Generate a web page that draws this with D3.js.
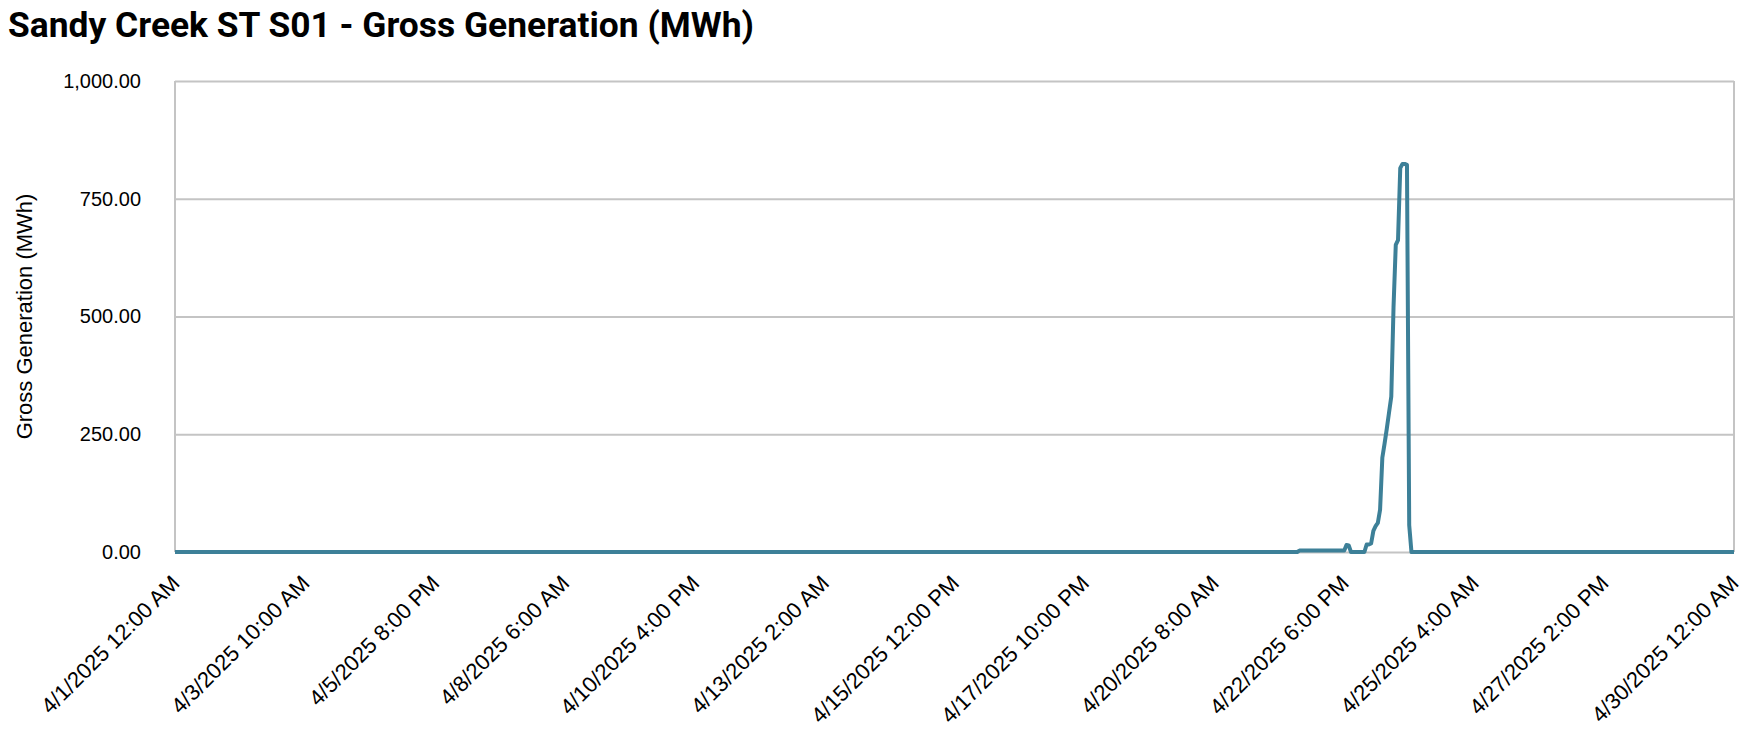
<!DOCTYPE html>
<html>
<head>
<meta charset="utf-8">
<script src="https://cdn.jsdelivr.net/npm/d3@7"></script>
<style>
  body { margin: 0; background: #ffffff; }
</style>
</head>
<body>
<div id="container"></div>
<script>
// readings, in hours from 4/1/2025 12:00 AM (hourly data, zero everywhere else)
let hoursFromStart = [0, 501, 502, 521, 522, 523, 524, 525, 531, 532, 533, 534, 535, 536, 537, 538, 539, 540, 541, 542, 543, 544, 545, 546, 547, 548, 549, 550, 551, 552, 696];
let grossMWh       = [0,   0,   3,   3,   3,  15,  14,   0,   0,  16,  16,  18,  45,  55,  62,  90, 200, 230, 262, 296, 330, 520, 652, 662, 815, 824, 824, 822,  57,   0,   0];

let tickHours = [0, 58, 116, 174, 232, 290, 348, 406, 464, 522, 580, 638, 696];
let yTicks = [0, 250, 500, 750, 1000];

let startDate = new Date(2025, 3, 1, 0, 0);

function toDate(hr){
  return new Date(startDate.getTime() + hr * 3600 * 1000);
}

let data = hoursFromStart.map(function(hr, i){
  return { date: toDate(hr), value: grossMWh[i] };
});

let w = 1748;
let h = 742;
let plotLeft = 175, plotRight = 1734, plotTop = 81, plotBottom = 552;

let viz = d3.select("#container")
  .append("svg")
    .attr("id", "viz")
    .attr("width", w)
    .attr("height", h)
  ;

let xScale = d3.scaleTime()
  .domain([toDate(0), toDate(696)])
  .range([plotLeft, plotRight]);

let yScale = d3.scaleLinear()
  .domain([0, 1000])
  .range([plotBottom, plotTop]);

// title
viz.append("text")
    .attr("x", 8)
    .attr("y", 37)
    .attr("font-family", "Roboto")
    .attr("font-weight", 700)
    .attr("font-size", 35)
    .attr("fill", "#000")
    .attr("textLength", 746)
    .attr("lengthAdjust", "spacingAndGlyphs")
    .text("Sandy Creek ST S01 - Gross Generation (MWh)")
  ;

// gridlines + y labels
let yAxis = d3.axisLeft(yScale)
  .tickValues(yTicks)
  .tickFormat(d3.format(",.2f"))
  .tickSize(-(plotRight - plotLeft))
  .tickPadding(34);

viz.append("g")
    .attr("class", "yaxis")
    .attr("transform", "translate(" + plotLeft + ",0)")
    .call(yAxis)
    .call(function(g){
      g.select(".domain").remove();
      g.selectAll(".tick line")
        .attr("stroke", "#c4c4c4")
        .attr("stroke-width", 2);
      g.selectAll(".tick text")
        .attr("fill", "#000")
        .attr("font-family", "Liberation Sans")
        .attr("font-size", 20)
        .attr("x", -34);
    })
  ;

// plot border (left / right)
viz.append("line")
    .attr("x1", plotLeft).attr("x2", plotLeft)
    .attr("y1", plotTop).attr("y2", plotBottom)
    .attr("stroke", "#c4c4c4")
    .attr("stroke-width", 2)
  ;
viz.append("line")
    .attr("x1", plotRight).attr("x2", plotRight)
    .attr("y1", plotTop).attr("y2", plotBottom)
    .attr("stroke", "#c4c4c4")
    .attr("stroke-width", 2)
  ;

// x axis labels
let xAxis = d3.axisBottom(xScale)
  .tickValues(tickHours.map(toDate))
  .tickFormat(d3.timeFormat("%-m/%-d/%Y %-I:%M %p"))
  .tickSize(0);

viz.append("g")
    .attr("class", "xaxis")
    .attr("transform", "translate(0," + plotBottom + ")")
    .call(xAxis)
    .call(function(g){
      g.select(".domain").remove();
      g.selectAll(".tick text")
        .attr("fill", "#000")
        .attr("font-family", "Liberation Sans")
        .attr("font-size", 22)
        .attr("text-anchor", "end")
        .attr("y", 0)
        .attr("dy", "0.35em")
        .attr("transform", "translate(0,27) rotate(-45)");
    })
  ;

// series
let line = d3.line()
  .x(function(d){ return xScale(d.date); })
  .y(function(d){ return yScale(d.value); });

viz.append("path")
    .datum(data)
    .attr("d", line)
    .attr("fill", "none")
    .attr("stroke", "#3d8098")
    .attr("stroke-width", 4)
    .attr("stroke-linejoin", "round")
  ;

// y axis title
viz.append("text")
    .attr("transform", "translate(32," + ((plotTop + plotBottom) / 2) + ") rotate(-90)")
    .attr("text-anchor", "middle")
    .attr("font-family", "Liberation Sans")
    .attr("font-size", 22)
    .attr("fill", "#000")
    .text("Gross Generation (MWh)")
  ;
</script>
</body>
</html>
